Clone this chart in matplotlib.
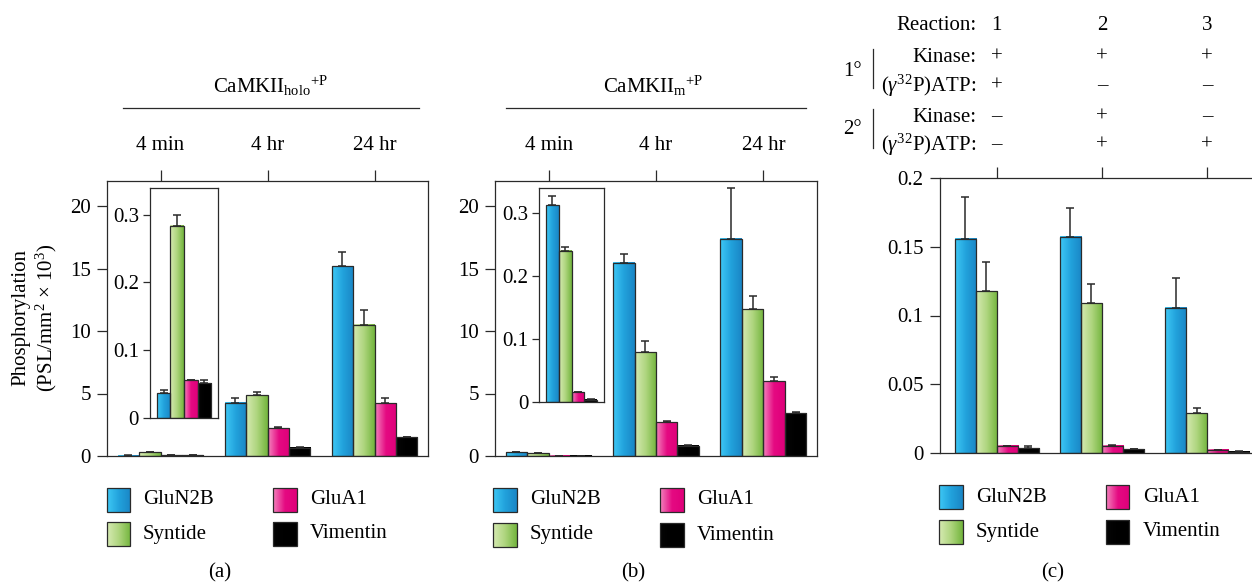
import numpy as np
import matplotlib
matplotlib.use('Agg')
import matplotlib.pyplot as plt
from matplotlib.colors import LinearSegmentedColormap
from matplotlib.patches import Rectangle

plt.rcParams['font.family'] = ['Liberation Serif', 'DejaVu Serif']
plt.rcParams['mathtext.fontset'] = 'custom'
plt.rcParams['mathtext.rm'] = 'Liberation Serif'
plt.rcParams['mathtext.it'] = 'Liberation Serif:italic'

W, H = 1252, 584
FS = 15
EDGE = '#2a2a2a'

# --- data -------------------------------------------------------------
time_points = ['4 min', '4 hr', '24 hr']
series = ['GluN2B', 'Syntide', 'GluA1', 'Vimentin']

# (a) CaMKII holo +P : mean and upper error
holo_glun2b = [0.036, 4.26, 15.18]
holo_syntide = [0.284, 4.85, 10.52]
holo_glua1 = [0.055, 2.24, 4.23]
holo_vimentin = [0.051, 0.67, 1.49]
holo_glun2b_err = [0.005, 0.37, 1.12]
holo_syntide_err = [0.016, 0.26, 1.14]
holo_glua1_err = [0.001, 0.06, 0.43]
holo_vimentin_err = [0.004, 0.02, 0.06]

# (b) CaMKII m +P
mono_glun2b = [0.312, 15.47, 17.39]
mono_syntide = [0.240, 8.31, 11.74]
mono_glua1 = [0.0153, 2.69, 5.99]
mono_vimentin = [0.0037, 0.83, 3.41]
mono_glun2b_err = [0.015, 0.72, 4.07]
mono_syntide_err = [0.006, 0.88, 1.04]
mono_glua1_err = [0.001, 0.13, 0.37]
mono_vimentin_err = [0.0005, 0.02, 0.13]

# (c) reactions
reactions = ['1', '2', '3']
kinase_1 = ['+', '+', '+']
atp_1 = ['+', '–', '–']
kinase_2 = ['–', '+', '–']
atp_2 = ['–', '+', '+']
rxn_glun2b = [0.1557, 0.157, 0.1057]
rxn_syntide = [0.1175, 0.1088, 0.029]
rxn_glua1 = [0.0051, 0.0056, 0.0022]
rxn_vimentin = [0.0036, 0.0029, 0.0012]
rxn_glun2b_err = [0.030, 0.021, 0.0215]
rxn_syntide_err = [0.0213, 0.0143, 0.0036]
rxn_glua1_err = [0.0005, 0.0007, 0.0003]
rxn_vimentin_err = [0.002, 0.0003, 0.0002]

# --- styling helpers ------------------------------------------------------
cmaps = [
    LinearSegmentedColormap.from_list('b', ['#3ec8f5', '#22a2dc', '#1a86c6']),
    LinearSegmentedColormap.from_list('g', ['#d6eab2', '#aed57e', '#73b53d']),
    LinearSegmentedColormap.from_list('m', ['#f383bd', '#e50a82', '#df007a']),
    LinearSegmentedColormap.from_list('k', ['#050505', '#000000', '#000000']),
]
grad = np.linspace(0, 1, 64).reshape(1, -1)


def fr(x0, y0, x1, y1):
    return [x0 / W, 1 - y1 / H, (x1 - x0) / W, (y1 - y0) / H]


def grad_bar(ax, x, h, w, cmap):
    ax.imshow(grad, extent=[x - w / 2, x + w / 2, 0, h], aspect='auto',
              cmap=cmap, zorder=2, interpolation='bilinear')
    ax.add_patch(Rectangle((x - w / 2, 0), w, h, fill=False, ec=EDGE,
                           lw=0.9, zorder=3))


def draw_bars(ax, pos, vals, errs, w):
    for x, v, e, cm in zip(pos, vals, errs, cmaps):
        for xi, vi in zip(x, v):
            grad_bar(ax, xi, vi, w, cm)
        ax.errorbar(x, v, yerr=[np.zeros(len(v)), e], fmt='none',
                    ecolor=EDGE, elinewidth=1.1, capsize=3.2,
                    capthick=1.1, zorder=4)


def style(ax):
    for s in ax.spines.values():
        s.set_linewidth(0.9)
        s.set_color(EDGE)


fig = plt.figure(figsize=(W / 100, H / 100), dpi=100)
offsets = np.array([-0.3, -0.1, 0.1, 0.3])
groups = np.arange(len(time_points))


def main_panel(rect, vals, errs, inset_rect):
    ax = fig.add_axes(rect)
    pos = [groups + o for o in offsets]
    draw_bars(ax, pos, vals, errs, 0.2)
    ax.set_xlim(-0.5, 2.5)
    ax.set_ylim(0, 22)
    ax.set_yticks([0, 5, 10, 15, 20])
    ax.set_xticks(groups)
    ax.set_xticklabels(time_points)
    ax.tick_params(axis='y', direction='out', length=7.5, width=0.9,
                   labelsize=FS, pad=4, color=EDGE)
    ax.tick_params(axis='x', bottom=False, labelbottom=False, top=True,
                   labeltop=True, direction='out', length=8, width=0.9,
                   labelsize=FS, pad=11, color=EDGE)
    style(ax)

    axi = fig.add_axes(inset_rect)
    ipos = [[i] for i in range(4)]
    draw_bars(axi, ipos, [[v[0]] for v in vals], [[e[0]] for e in errs], 1.0)
    axi.set_xlim(-1, 4)
    axi.set_ylim(0, 0.34)
    axi.set_xticks([])
    axi.set_yticks([0, 0.1, 0.2, 0.3])
    axi.set_yticklabels(['0', '0.1', '0.2', '0.3'])
    axi.tick_params(axis='y', direction='out', length=5, width=0.9,
                    labelsize=FS, pad=3, color=EDGE)
    style(axi)
    return ax


ax_a = main_panel(fr(107, 181, 428, 456),
                  [holo_glun2b, holo_syntide, holo_glua1, holo_vimentin],
                  [holo_glun2b_err, holo_syntide_err, holo_glua1_err, holo_vimentin_err],
                  fr(150, 187.7, 218, 417.7))
ax_b = main_panel(fr(495, 181, 817, 456),
                  [mono_glun2b, mono_syntide, mono_glua1, mono_vimentin],
                  [mono_glun2b_err, mono_syntide_err, mono_glua1_err, mono_vimentin_err],
                  fr(539.3, 187.7, 603.7, 402))

# panel c
ax_c = fig.add_axes(fr(939.7, 177.7, 1252, 453.3))
rpos = np.arange(len(reactions))
draw_bars(ax_c, [rpos + o for o in offsets],
          [rxn_glun2b, rxn_syntide, rxn_glua1, rxn_vimentin],
          [rxn_glun2b_err, rxn_syntide_err, rxn_glua1_err, rxn_vimentin_err], 0.2)
ax_c.set_xlim(-0.541, 2.425)
ax_c.set_ylim(0, 0.2)
ax_c.set_yticks([0, 0.05, 0.1, 0.15, 0.2])
ax_c.set_yticklabels(['0', '0.05', '0.1', '0.15', '0.2'])
ax_c.set_xticks(rpos)
ax_c.tick_params(axis='y', direction='out', length=7.5, width=0.9,
                 labelsize=FS, pad=4, color=EDGE)
ax_c.tick_params(axis='x', bottom=False, labelbottom=False, top=True,
                 labeltop=False, direction='out', length=8, width=0.9, color=EDGE)
style(ax_c)
ax_c.spines['right'].set_visible(False)

# header rows for panel c
hdr_rows = [(26, 'Reaction:', reactions), (57, 'Kinase:', kinase_1),
            (86, r'($\gamma^{32}$P)ATP:', atp_1), (117, 'Kinase:', kinase_2),
            (145, r'($\gamma^{32}$P)ATP:', atp_2)]
xt = ax_c.get_xaxis_transform()
for ypx, lab, marks in hdr_rows:
    fig.text(976.7 / W, 1 - ypx / H, lab, ha='right', va='center', fontsize=FS)
    for x, m in zip(rpos, marks):
        ax_c.text(x, 1 + (177.7 - ypx) / 275.6, m, transform=xt, ha='center',
                  va='center', fontsize=FS, clip_on=False)

# overlay for lines, legends and panel letters
ov = fig.add_axes([0, 0, 1, 1], zorder=-1)
ov.axis('off')
ov.plot([123, 419], [107.7, 107.7], color=EDGE, lw=0.9)
ov.plot([506, 806], [107.7, 107.7], color=EDGE, lw=0.9)
ov.plot([872.7, 872.7], [49, 88], color=EDGE, lw=0.9)
ov.plot([872.7, 872.7], [109, 148], color=EDGE, lw=0.9)
ov.text(270, 86, r'CaMKII$_{\mathrm{holo}}$$^{\mathrm{+P}}$', ha='center',
        va='center', fontsize=FS)
ov.text(653, 86, r'CaMKII$_{\mathrm{m}}$$^{\mathrm{+P}}$', ha='center',
        va='center', fontsize=FS)
ov.text(852.7, 71, '1°', ha='center', va='center', fontsize=FS)
ov.text(852.7, 130, '2°', ha='center', va='center', fontsize=FS)
ov.text(21, 318, 'Phosphorylation', rotation=90, ha='center', va='center',
        fontsize=FS)
ov.text(46, 318, r'(PSL/mm$^{2}$ × 10$^{3}$)', rotation=90, ha='center',
        va='center', fontsize=FS)

legend_layout = [
    ((106.7, 143, 273, 310), (500, 534), 220, '(a)'),
    ((493, 530, 660, 697), (500, 535), 633, '(b)'),
    ((939, 976, 1105.7, 1142.7), (497, 532), 1053, '(c)'),
]
for (x1, t1, x2, t2), (r1, r2), lx, letter in legend_layout:
    slots = [(x1, t1, r1), (x1, t1, r2), (x2, t2, r1), (x2, t2, r2)]
    for (sx, tx, ry), name, cm in zip(slots, series, cmaps):
        ov.imshow(grad, extent=[sx, sx + 23.5, ry + 11.75, ry - 11.75],
                  aspect='auto', cmap=cm, interpolation='bilinear')
        ov.add_patch(Rectangle((sx, ry - 11.75), 23.5, 23.5, fill=False,
                               ec=EDGE, lw=0.9))
        ov.text(tx, ry, name, ha='left', va='center', fontsize=FS)
    ov.text(lx, 573, letter, ha='center', va='center', fontsize=FS)

ov.set_xlim(0, W)
ov.set_ylim(H, 0)

fig.savefig('out.png', dpi=100)
